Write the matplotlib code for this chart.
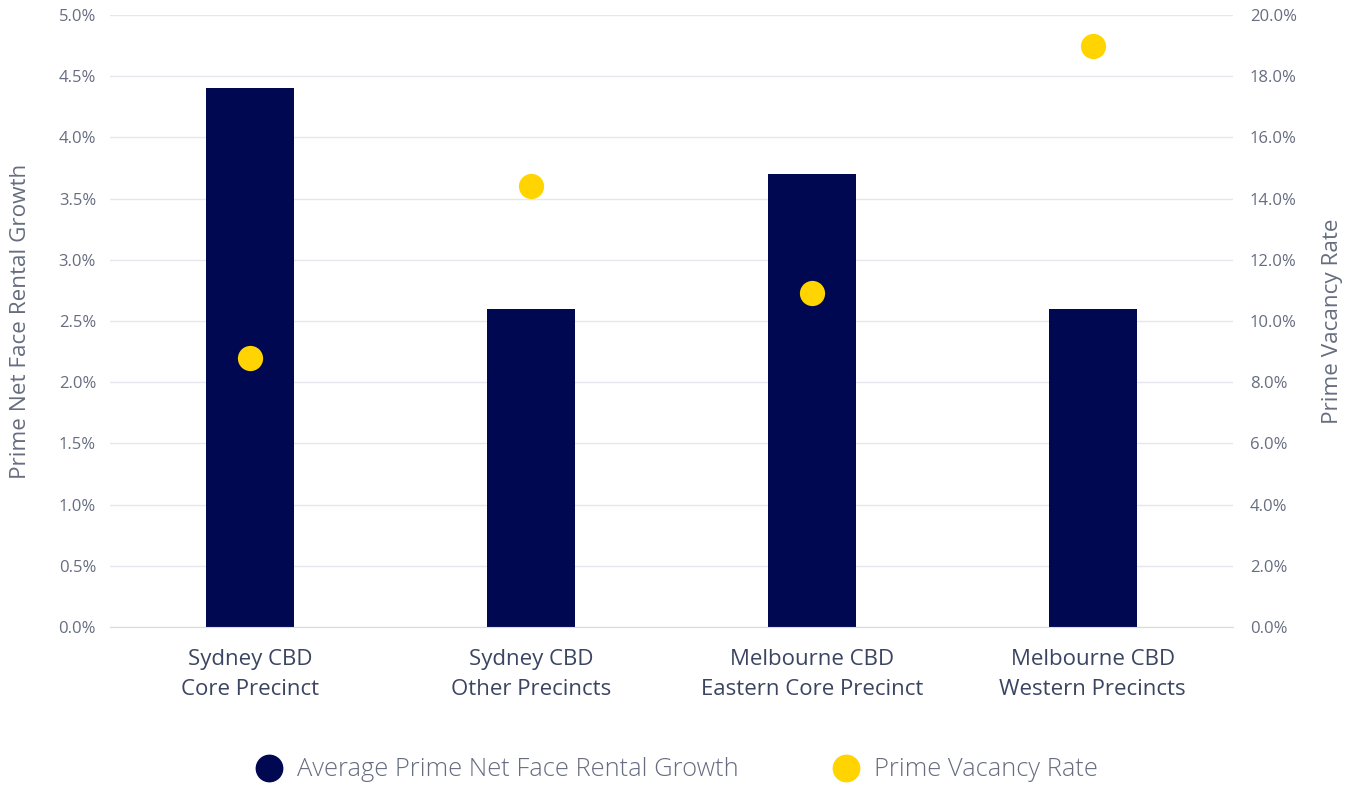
import matplotlib
matplotlib.use("Agg")
import matplotlib.pyplot as plt
from matplotlib.ticker import FuncFormatter, MultipleLocator
from matplotlib.lines import Line2D

plt.rcParams['font.family'] = ['Open Sans', 'DejaVu Sans']

categories = ["Sydney CBD\nCore Precinct", "Sydney CBD\nOther Precincts",
              "Melbourne CBD\nEastern Core Precinct", "Melbourne CBD\nWestern Precincts"]
rental_growth = [4.4, 2.6, 3.7, 2.6]
vacancy_rate = [8.8, 14.4, 10.9, 19.0]

navy = "#000852"
yellow = "#ffd400"
tick_color = "#666d80"
label_color = "#3b4562"
grid_color = "#e6e6ee"

fig = plt.figure(figsize=(13.62, 7.87), dpi=100)
ax = fig.add_axes([110/1362, 1-627/787, (1233-110)/1362, (627-15)/787])
ax2 = ax.twinx()

x = list(range(len(categories)))
ax.bar(x, rental_growth, width=0.313, color=navy, zorder=2)
ax2.scatter(x, vacancy_rate, s=330, color=yellow, zorder=3, linewidths=0)

ax.set_xlim(-0.5, 3.5)
ax.set_ylim(0, 5)
ax2.set_ylim(0, 20)
ax.yaxis.set_major_locator(MultipleLocator(0.5))
ax2.yaxis.set_major_locator(MultipleLocator(2))
ax.yaxis.set_major_formatter(FuncFormatter(lambda v, p: f"{v:.1f}%"))
ax2.yaxis.set_major_formatter(FuncFormatter(lambda v, p: f"{v:.1f}%"))

ax.grid(axis='y', color=grid_color, linewidth=1, zorder=0)
ax.set_axisbelow(True)
for a in (ax, ax2):
    for s in a.spines.values():
        s.set_visible(False)
    a.tick_params(length=0)
ax.spines['bottom'].set_visible(True)
ax.spines['bottom'].set_color("#d8dae6")

ax.set_xticks(x)
ax.set_xticklabels(categories, fontsize=16, color=label_color, linespacing=1.55)
ax.tick_params(axis='x', pad=16)
ax.tick_params(axis='y', labelsize=12, labelcolor=tick_color, pad=10)
ax2.tick_params(axis='y', labelsize=12, labelcolor=tick_color, pad=12)

ax.set_ylabel("Prime Net Face Rental Growth", fontsize=16.2, color=tick_color, labelpad=20)
ax2.set_ylabel("Prime Vacancy Rate", fontsize=16.2, color=tick_color, labelpad=18)

handles = [Line2D([], [], marker='o', linestyle='none', markersize=19, color=navy),
           Line2D([], [], marker='o', linestyle='none', markersize=19, color=yellow)]
fig.legend(handles, ["Average Prime Net Face Rental Growth", "Prime Vacancy Rate"],
           loc='center', bbox_to_anchor=(671/1362, 1-770/787), ncol=2, frameon=False,
           labelcolor=tick_color, columnspacing=3.2, handletextpad=0.1,
           prop={'size': 18.4, 'weight': 'light'})

fig.savefig("out.png", dpi=100)
